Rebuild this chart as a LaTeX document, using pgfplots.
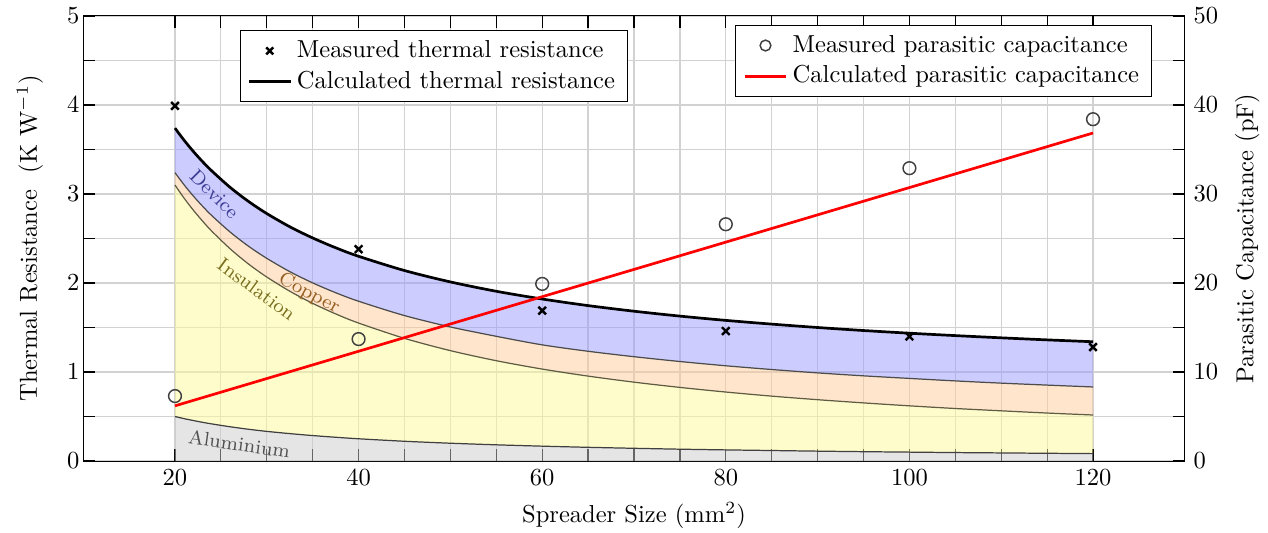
\documentclass[border=0pt]{standalone}
\usepackage{pgfplots}
\pgfplotsset{compat=1.18}
\usepgfplotslibrary{fillbetween}
\definecolor{devtxt}{RGB}{60,60,150}
\definecolor{instxt}{RGB}{120,110,30}
\definecolor{cutxt}{RGB}{150,95,35}
\definecolor{altxt}{RGB}{80,80,80}

\pgfplotstableread{
x     al     ins    cu     dev
20    0.500  3.100  3.240  3.740
21    0.476  2.952  3.102  3.603
22    0.455  2.818  2.977  3.478
23    0.435  2.696  2.863  3.364
24    0.417  2.583  2.758  3.260
26    0.385  2.385  2.573  3.075
28    0.357  2.214  2.414  2.917
30    0.333  2.067  2.277  2.780
32.5  0.308  1.908  2.128  2.632
35    0.286  1.771  2.001  2.506
37.5  0.267  1.653  1.891  2.396
40    0.250  1.550  1.795  2.300
45    0.222  1.378  1.634  2.140
50    0.200  1.240  1.506  2.012
55    0.182  1.127  1.401  1.907
60    0.167  1.033  1.305  1.820
65    0.154  0.954  1.233  1.746
70    0.143  0.886  1.172  1.683
75    0.133  0.827  1.118  1.628
80    0.125  0.775  1.070  1.580
85    0.118  0.729  1.028  1.538
90    0.111  0.689  0.990  1.500
95    0.105  0.653  0.957  1.466
100   0.100  0.620  0.928  1.436
105   0.095  0.590  0.900  1.409
110   0.091  0.564  0.875  1.384
115   0.087  0.539  0.853  1.361
120   0.083  0.517  0.832  1.340
}\layers

\pgfplotstableread{
x    r
20   3.99
40   2.38
60   1.69
80   1.46
100  1.40
120  1.28
}\measR

\pgfplotstableread{
x    c
20   7.3
40   13.7
60   19.9
80   26.6
100  32.9
120  38.4
}\measC

\begin{document}
\begin{tikzpicture}
\begin{axis}[
  name=a,
  scale only axis,
  width=449pt, height=181.4pt,
  xmin=10, xmax=130,
  ymin=0, ymax=5,
  xtick={20,40,...,120},
  minor x tick num=3,
  ytick={0,1,...,5},
  minor y tick num=1,
  ytick pos=left,
  grid=both,
  major grid style={gray!35, line width=0.5pt},
  minor grid style={gray!35, line width=0.5pt},
  major tick length=0.17cm,
  minor tick length=0.17cm,
  tick style={black, line width=0.5pt},
  yticklabel style={xshift=2pt},
  xlabel={Spreader Size (mm$^2$)},
  ylabel={Thermal Resistance \ (K~W$^{-1}$)},
  ylabel shift=3pt,
  legend style={at={(0.142,0.968)}, anchor=north west, draw=black, fill=white, font=\normalsize},
  legend cell align=left,
]
\addplot[draw=none, name path=zero, forget plot] coordinates {(20,0) (120,0)};
\addplot[smooth, black!75, line width=0.5pt, name path=al, forget plot] table[x=x, y=al] {\layers};
\addplot[smooth, black!60!yellow!70!black, line width=0.5pt, name path=ins, forget plot] table[x=x, y=ins] {\layers};
\addplot[smooth, black!70, line width=0.5pt, name path=cu, forget plot] table[x=x, y=cu] {\layers};
\addplot[smooth, draw=none, name path=dev, forget plot] table[x=x, y=dev] {\layers};

\addplot[fill=gray!40, fill opacity=0.5, draw=none, forget plot] fill between[of=zero and al];
\addplot[fill=yellow!40, fill opacity=0.5, draw=none, forget plot] fill between[of=al and ins];
\addplot[fill=orange!40, fill opacity=0.5, draw=none, forget plot] fill between[of=ins and cu];
\addplot[fill=blue!40, fill opacity=0.5, draw=none, forget plot] fill between[of=cu and dev];

\addplot[smooth, black, line width=1.1pt, forget plot] table[x=x, y=dev] {\layers};
\addplot[only marks, mark=x, mark size=2.2pt, black, mark options={line width=1pt}, forget plot] table[x=x, y=r] {\measR};

\addlegendimage{only marks, mark=x, mark size=2pt, black, mark options={line width=1pt}}
\addlegendentry{Measured thermal resistance}
\addlegendimage{black, line width=1.1pt}
\addlegendentry{Calculated thermal resistance}

\node[rotate=-45, font=\footnotesize, text=devtxt] at (axis cs:24.3,3.0) {Device};
\node[rotate=-36, font=\footnotesize, text=instxt] at (axis cs:28.9,1.93) {Insulation};
\node[rotate=-28, font=\footnotesize, text=cutxt] at (axis cs:34.6,1.88) {Copper};
\node[rotate=-8, font=\footnotesize, text=altxt] at (axis cs:27.0,0.19) {Aluminium};
\end{axis}

\begin{axis}[
  scale only axis,
  width=449pt, height=181.4pt,
  xmin=10, xmax=130,
  ymin=0, ymax=50,
  axis x line=none,
  axis y line*=right,
  ytick={0,10,...,50},
  minor y tick num=1,
  major tick length=0.17cm,
  minor tick length=0.17cm,
  tick style={black, line width=0.5pt},
  ylabel={Parasitic Capacitance (pF)},
  legend style={at={(0.592,0.980)}, anchor=north west, draw=black, fill=white, font=\normalsize},
  legend cell align=left,
]
\addplot[red, line width=1.1pt, forget plot] coordinates {(20,6.2) (120,36.85)};
\addplot[only marks, mark=o, mark size=2.6pt, black!75, mark options={line width=0.6pt}, forget plot] table[x=x, y=c] {\measC};
\addlegendimage{only marks, mark=o, mark size=2.2pt, black!75, mark options={line width=0.6pt}}
\addlegendentry{Measured parasitic capacitance}
\addlegendimage{red, line width=1.1pt}
\addlegendentry{Calculated parasitic capacitance}
\end{axis}

\path (a.south west) ++(-33.9pt,-29pt) coordinate (bl);
\path (a.north east) ++(33.9pt,6.5pt) coordinate (tr);
\pgfresetboundingbox
\path[use as bounding box] (bl) rectangle (tr);
\end{tikzpicture}
\end{document}
